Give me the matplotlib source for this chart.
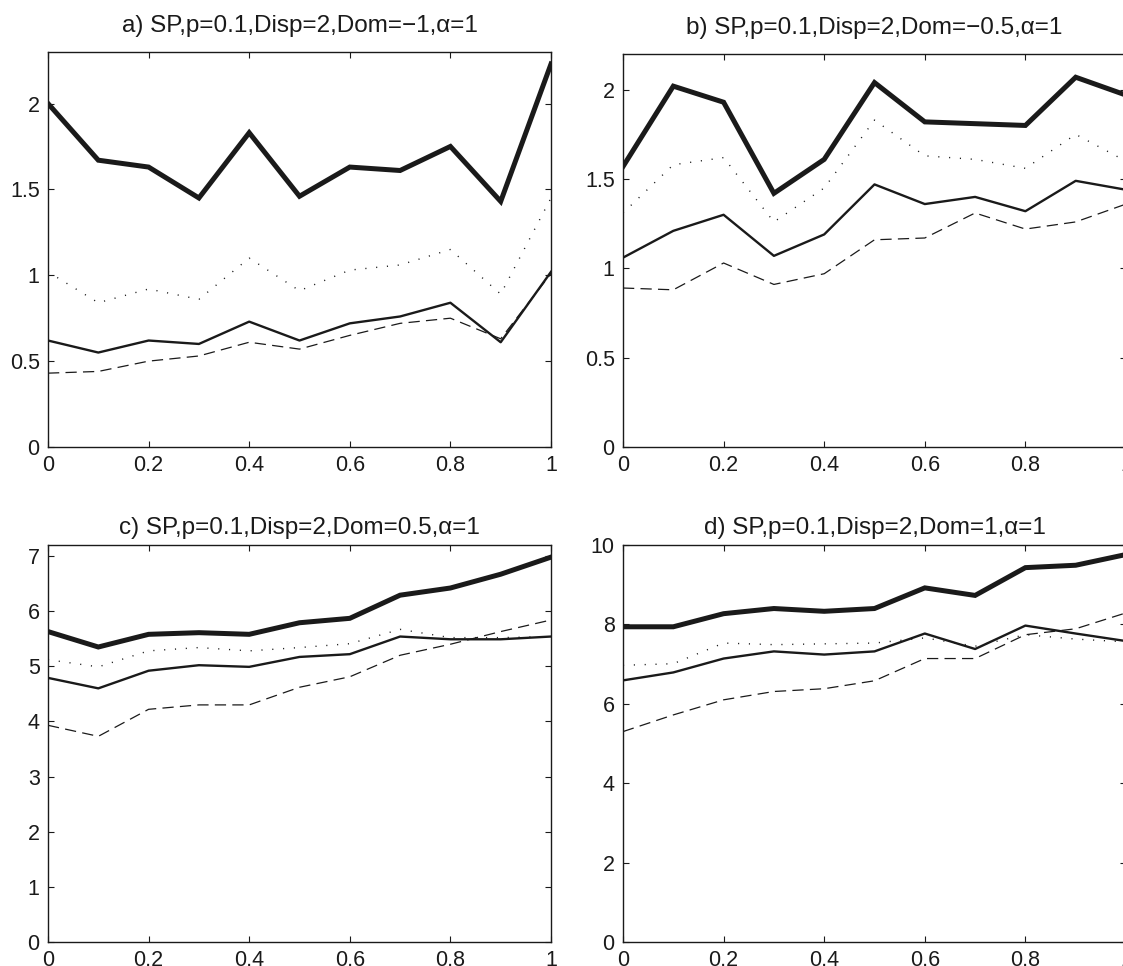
import matplotlib
matplotlib.use("Agg")
import matplotlib.pyplot as plt
import numpy as np

plt.rcParams['font.family'] = ['Liberation Sans', 'DejaVu Sans']

# x grid shared by all panels
x = [0.0, 0.1, 0.2, 0.3, 0.4, 0.5, 0.6, 0.7, 0.8, 0.9, 1.0]

titles = [
    "a) SP,p=0.1,Disp=2,Dom=\u22121,\u03b1=1",
    "b) SP,p=0.1,Disp=2,Dom=\u22120.5,\u03b1=1",
    "c) SP,p=0.1,Disp=2,Dom=0.5,\u03b1=1",
    "d) SP,p=0.1,Disp=2,Dom=1,\u03b1=1",
]

# panel a
a_thick = [2.00, 1.67, 1.63, 1.45, 1.83, 1.46, 1.63, 1.61, 1.75, 1.43, 2.23]
a_thin = [0.62, 0.55, 0.62, 0.60, 0.73, 0.62, 0.72, 0.76, 0.84, 0.61, 1.02]
a_dot = [1.02, 0.84, 0.92, 0.86, 1.10, 0.91, 1.03, 1.06, 1.15, 0.89, 1.45]
a_dash = [0.43, 0.44, 0.50, 0.53, 0.61, 0.57, 0.65, 0.72, 0.75, 0.63, 1.01]

# panel b
b_thick = [1.57, 2.02, 1.93, 1.42, 1.61, 2.04, 1.82, 1.81, 1.80, 2.07, 1.97]
b_thin = [1.06, 1.21, 1.30, 1.07, 1.19, 1.47, 1.36, 1.40, 1.32, 1.49, 1.44]
b_dot = [1.31, 1.58, 1.62, 1.26, 1.45, 1.83, 1.63, 1.61, 1.56, 1.75, 1.60]
b_dash = [0.89, 0.88, 1.03, 0.91, 0.97, 1.16, 1.17, 1.31, 1.22, 1.26, 1.36]

# panel c
c_thick = [5.63, 5.35, 5.58, 5.61, 5.58, 5.79, 5.87, 6.29, 6.42, 6.67, 6.98]
c_thin = [4.79, 4.60, 4.92, 5.02, 4.99, 5.17, 5.22, 5.54, 5.49, 5.49, 5.54]
c_dot = [5.12, 4.99, 5.28, 5.34, 5.28, 5.34, 5.41, 5.67, 5.52, 5.52, 5.54]
c_dash = [3.93, 3.73, 4.22, 4.30, 4.30, 4.62, 4.81, 5.20, 5.40, 5.63, 5.84]

# panel d
d_thick = [7.94, 7.94, 8.27, 8.40, 8.33, 8.40, 8.92, 8.73, 9.43, 9.49, 9.76]
d_thin = [6.59, 6.79, 7.14, 7.32, 7.24, 7.32, 7.77, 7.38, 7.97, 7.77, 7.58]
d_dot = [6.97, 7.01, 7.53, 7.49, 7.51, 7.53, 7.66, 7.45, 7.74, 7.63, 7.56]
d_dash = [5.30, 5.72, 6.10, 6.31, 6.38, 6.58, 7.14, 7.14, 7.74, 7.89, 8.29]

series = [
    (a_thick, a_thin, a_dot, a_dash),
    (b_thick, b_thin, b_dot, b_dash),
    (c_thick, c_thin, c_dot, c_dash),
    (d_thick, d_thin, d_dot, d_dash),
]
ylims = [2.3, 2.2, 7.2, 10]
yticks = [
    [0, 0.5, 1, 1.5, 2],
    [0, 0.5, 1, 1.5, 2],
    [0, 1, 2, 3, 4, 5, 6, 7],
    [0, 2, 4, 6, 8, 10],
]
xticks = [0, 0.2, 0.4, 0.6, 0.8, 1]

W, H = 1123, 966
fig = plt.figure(figsize=(W / 100, H / 100), dpi=100)

# axes boxes in pixels: left, top, right, bottom (right panels run past the edge)
boxes = [
    (48, 52, 551, 447),
    (623, 54, 1126, 447),
    (48, 545, 551, 942),
    (623, 545, 1126, 942),
]
title_pads = [14.5, 14.5, 8, 8]

col = '#1a1a1a'

def fmt(v):
    return '%g' % v

for i in range(4):
    l, t, r, b = boxes[i]
    ax = fig.add_axes([l / W, 1 - b / H, (r - l) / W, (b - t) / H])
    thick, thin, dot, dash = series[i]
    ax.plot(x, thick, color=col, lw=3.6, solid_joinstyle='miter')
    ax.plot(x, thin, color=col, lw=1.7)
    ax.plot(x, dot, color=col, lw=1.0, linestyle=(0, (0.8, 7)))
    ax.plot(x, dash, color=col, lw=0.9, linestyle=(0, (9, 5)))
    ax.set_xlim(0, 1)
    ax.set_ylim(0, ylims[i])
    ax.set_xticks(xticks)
    ax.set_xticklabels([fmt(v) for v in xticks])
    ax.set_yticks(yticks[i])
    ax.set_yticklabels([fmt(v) for v in yticks[i]])
    ax.tick_params(direction='in', top=True, right=True, length=4, width=0.8,
                   labelsize=15.5, pad=6, colors=col)
    for s in ax.spines.values():
        s.set_linewidth(1.0)
        s.set_color(col)
    ax.set_title(titles[i], fontsize=17.5, pad=title_pads[i], color=col)

fig.savefig('out.png', dpi=100)
